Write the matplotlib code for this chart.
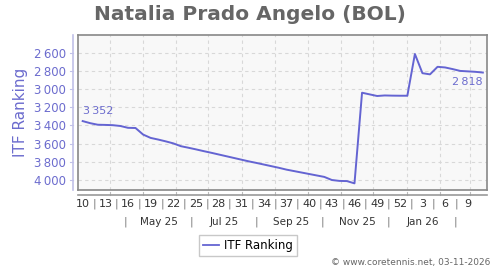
import datetime as dt
import matplotlib
matplotlib.use("Agg")
import matplotlib.pyplot as plt
from matplotlib.lines import Line2D
from matplotlib.transforms import blended_transform_factory

# weekly ITF ranking, from week 10 of 2025 to week 11 of 2026
ranks = [3352, 3375, 3392, 3394, 3397, 3406, 3426, 3428, 3500, 3537,
         3555, 3575, 3597, 3628, 3645, 3663, 3682, 3700, 3719, 3738,
         3757, 3776, 3795, 3812, 3830, 3848, 3866, 3886, 3902, 3918,
         3934, 3950, 3966, 4000, 4010, 4012, 4037, 3040, 3058, 3076,
         3070, 3072, 3073, 3073, 2614, 2825, 2838, 2755, 2762, 2780,
         2800, 2805, 2810, 2818]
week_ticks = [0, 3, 6, 9, 12, 15, 18, 21, 24, 27, 30, 33, 36, 39, 42, 45, 48, 51]
week_labels = ["10", "13", "16", "19", "22", "25", "28", "31", "34", "37",
               "40", "43", "46", "49", "52", "3", "6", "9"]
month_labels = ["May 25", "Jul 25", "Sep 25", "Nov 25", "Jan 26"]
month_label_dates = [dt.date(2025, 5, 16), dt.date(2025, 7, 16), dt.date(2025, 9, 16),
                     dt.date(2025, 11, 16), dt.date(2026, 1, 16)]
month_sep_dates = [dt.date(2025, 4, 15), dt.date(2025, 6, 15), dt.date(2025, 8, 15),
                   dt.date(2025, 10, 15), dt.date(2025, 12, 15), dt.date(2026, 2, 15)]
y_ticks = [2600, 2800, 3000, 3200, 3400, 3600, 3800, 4000]

start = dt.date(2025, 3, 3)  # monday of week 10


def pos(d):
    return ((d - start).days - 3.5) / 7


month_starts = [dt.date(2025 + (m - 1) // 12, (m - 1) % 12 + 1, 1) for m in range(4, 16)]

line_col = "#6464d2"
lab_col = "#6c6cce"

fig = plt.figure(figsize=(5, 2.7), dpi=100)
ax = fig.add_axes([78 / 500, 1 - 190 / 270, 409 / 500, 155 / 270])
ax.set_facecolor("#f8f8f8")

x = list(range(len(ranks)))
ax.plot(x, ranks, color=line_col, lw=1.4)
ax.set_xlim(-0.62, 53.55)
ax.set_ylim(4110, 2405)

ax.set_yticks(y_ticks)
ax.set_yticklabels([f"{v // 1000}\u2009{v % 1000:03d}" for v in y_ticks])
ax.tick_params(axis="y", length=0, pad=8.5, labelsize=8.5, labelcolor=lab_col)
ax.set_xticks([pos(d) for d in month_starts])
ax.tick_params(axis="x", length=0, labelbottom=False)
ax.grid(True, color="#d8d8d8", ls=(0, (3, 3)), lw=0.8)
for s in ax.spines.values():
    s.set_color("#888888")
    s.set_linewidth(1.2)

ax.text(0, 3352 - 55, "3\u2009352", color=lab_col, fontsize=8, ha="left", va="bottom")
ax.text(len(ranks) - 1, 2818 + 50, "2\u2009818", color=lab_col, fontsize=8, ha="right", va="top")

ax.set_ylabel("ITF Ranking", color=lab_col, fontsize=11, va="center")
ax.yaxis.set_label_coords(21 / 500, 1 - 112.5 / 270, transform=fig.transFigure)

# separate axis lines
fig.add_artist(Line2D([73 / 500, 73 / 500], [1 - 35 / 270, 1 - 190 / 270],
                      color="#c0c0e8", lw=1.2))
fig.add_artist(Line2D([78 / 500, 487 / 500], [1 - 195 / 270, 1 - 195 / 270],
                      color="#999999", lw=1.2))
tr = blended_transform_factory(ax.transData, fig.transFigure)
for d in month_starts:
    p = pos(d)
    ax.add_line(Line2D([p, p], [1 - 195 / 270, 1 - 192 / 270], color="#bbbbbb",
                       lw=0.8, transform=tr, clip_on=False))
trY = blended_transform_factory(fig.transFigure, ax.transData)
for v in y_ticks:
    ax.add_line(Line2D([70 / 500, 73 / 500], [v, v], color="#c0c0e8", lw=0.8,
                       transform=trY, clip_on=False))

for i, lab in zip(week_ticks, week_labels):
    ax.text(i, 1 - 204 / 270, lab, transform=tr, ha="center", va="center",
            fontsize=8, color="#333333")
    if i < week_ticks[-1]:
        ax.text(i + 1.5, 1 - 204 / 270, "|", transform=tr, ha="center", va="center",
                fontsize=8, color="#777777")
for d, lab in zip(month_label_dates, month_labels):
    ax.text(pos(d), 1 - 222 / 270, lab, transform=tr, ha="center", va="center",
            fontsize=7.5, color="#333333")
for d in month_sep_dates:
    ax.text(pos(d), 1 - 222 / 270, "|", transform=tr, ha="center", va="center",
            fontsize=8, color="#777777")

fig.text(0.5, 1 - 14 / 270, "Natalia Prado Angelo (BOL)", ha="center", va="center",
         fontsize=14.5, fontweight="bold", color="#666666")

leg_h = [Line2D([], [], color=line_col, lw=1.3)]
fig.legend(leg_h, ["ITF Ranking"], loc="center", bbox_to_anchor=(248 / 500, 1 - 245.5 / 270),
           fontsize=8.5, frameon=True, fancybox=False, edgecolor="#bbbbbb",
           handlelength=1.4, handletextpad=0.4, borderpad=0.35)

fig.text(490 / 500, 1 - 262 / 270, "\u00a9 www.coretennis.net, 03-11-2026", ha="right",
         va="center", fontsize=6.5, color="#666666")

fig.savefig("out.png", dpi=100, facecolor="white")
